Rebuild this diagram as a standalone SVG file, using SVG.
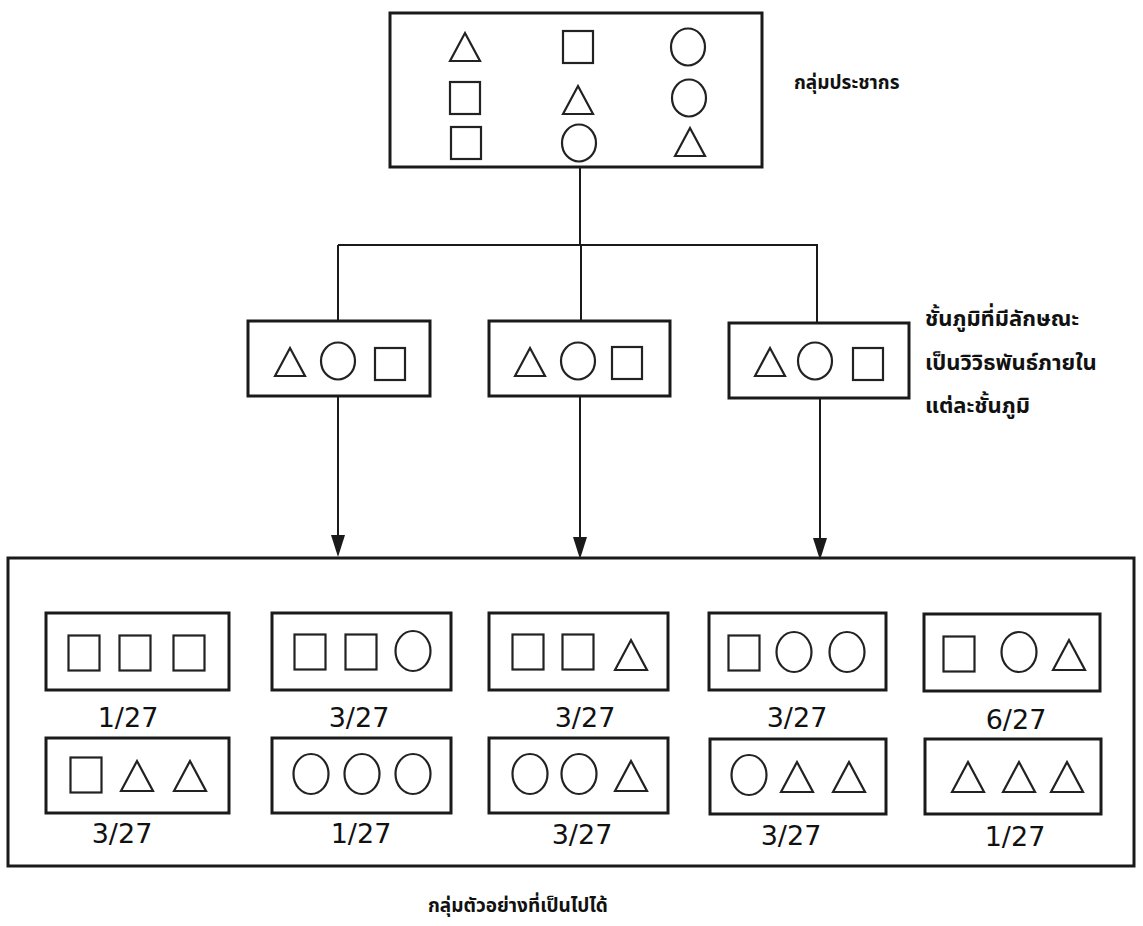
<svg xmlns="http://www.w3.org/2000/svg" xmlns:xlink="http://www.w3.org/1999/xlink" width="1143" height="926" viewBox="0 0 1143 926">
<style>
.box{fill:none;stroke:#1a1a1a;stroke-width:3}
.shp{fill:none;stroke:#222;stroke-width:2.2}
.ln{fill:none;stroke:#1a1a1a;stroke-width:2}
.th{font-family:"Noto Sans Thai","Noto Serif Thai","Loma","Garuda","Norasi","Noto Sans","DejaVu Sans",sans-serif;font-weight:bold;fill:#111}
.num{font-family:"DejaVu Sans",sans-serif;font-size:27px;fill:#111;text-anchor:middle}
</style>
<defs>
<g id="tri"><path class="shp" d="M-15,14 L0,-14 L15,14 Z"/></g>
<g id="sq"><rect class="shp" x="-15" y="-16" width="30" height="32"/></g>
<g id="cir"><ellipse class="shp" rx="17" ry="18.5"/></g>
<g id="tri2"><path class="shp" d="M-16,15 L0,-15 L16,15 Z"/></g>
<g id="sq2"><rect class="shp" x="-15.5" y="-17.5" width="31" height="35"/></g>
<g id="cir2"><ellipse class="shp" rx="17.5" ry="20"/></g>
</defs>

<g id="connectors">
<line class="ln" x1="580" y1="167" x2="580" y2="245"/>
<line class="ln" x1="338" y1="245" x2="818" y2="245"/>
<line class="ln" x1="338" y1="245" x2="338" y2="321"/>
<line class="ln" x1="581" y1="245" x2="581" y2="321"/>
<line class="ln" x1="817" y1="245" x2="817" y2="323"/>
<line class="ln" x1="338" y1="396" x2="338" y2="535"/>
<path d="M331,535 L345,535 L338,557 Z" fill="#1a1a1a"/>
<line class="ln" x1="580" y1="396" x2="580" y2="537"/>
<path d="M573,537 L587,537 L580,559 Z" fill="#1a1a1a"/>
<line class="ln" x1="820" y1="398" x2="820" y2="538"/>
<path d="M813,538 L827,538 L820,560 Z" fill="#1a1a1a"/>
</g>

<g id="population">
<rect class="box" x="390" y="13" width="372" height="154"/>
<use href="#tri" x="465" y="47"/>
<use href="#sq" x="578" y="47"/>
<use href="#cir" x="688" y="47"/>
<use href="#sq" x="465" y="98"/>
<use href="#tri" x="578" y="100"/>
<use href="#cir" x="689" y="98"/>
<use href="#sq" x="466" y="143"/>
<use href="#cir" x="579" y="143"/>
<use href="#tri" x="690" y="142"/>
<text class="th" x="794" y="89" font-size="19">กลุ่มประชากร</text>
</g>

<g id="stratum1">
<rect class="box" x="248" y="321" width="182" height="75"/>
<use href="#tri" x="290" y="362"/>
<use href="#cir" x="338" y="361"/>
<use href="#sq" x="390" y="364"/>
</g>
<g id="stratum2">
<rect class="box" x="489" y="321" width="181" height="75"/>
<use href="#tri" x="530" y="362"/>
<use href="#cir" x="578" y="361"/>
<use href="#sq" x="627" y="363"/>
</g>
<g id="stratum3">
<rect class="box" x="729" y="323" width="180" height="75"/>
<use href="#tri" x="770" y="362"/>
<use href="#cir" x="815" y="361"/>
<use href="#sq" x="868" y="364"/>
</g>
<g id="stratum-label">
<text class="th" x="925" y="326" font-size="22">ชั้นภูมิที่มีลักษณะ</text>
<text class="th" x="925" y="370" font-size="22">เป็นวิวิธพันธ์ภายใน</text>
<text class="th" x="925" y="413" font-size="22">แต่ละชั้นภูมิ</text>
</g>

<g id="samples">
<rect class="box" x="8" y="558" width="1126" height="308"/>

<g id="s1">
<rect class="box" x="46" y="613" width="183" height="77"/>
<use href="#sq2" x="84" y="653"/><use href="#sq2" x="135" y="653"/><use href="#sq2" x="189" y="653"/>
<text class="num" x="128" y="727">1/27</text>
</g>
<g id="s2">
<rect class="box" x="272" y="613" width="179" height="77"/>
<use href="#sq2" x="310" y="652"/><use href="#sq2" x="361" y="652"/><use href="#cir2" x="413" y="651"/>
<text class="num" x="359" y="727">3/27</text>
</g>
<g id="s3">
<rect class="box" x="489" y="613" width="179" height="77"/>
<use href="#sq2" x="528" y="652"/><use href="#sq2" x="578" y="652"/><use href="#tri2" x="631" y="655"/>
<text class="num" x="585" y="727">3/27</text>
</g>
<g id="s4">
<rect class="box" x="709" y="613" width="177" height="77"/>
<use href="#sq2" x="744" y="653"/><use href="#cir2" x="794" y="652"/><use href="#cir2" x="847" y="652"/>
<text class="num" x="797" y="727">3/27</text>
</g>
<g id="s5">
<rect class="box" x="924" y="614" width="176" height="77"/>
<use href="#sq2" x="959" y="654"/><use href="#cir2" x="1019" y="652"/><use href="#tri2" x="1069" y="655"/>
<text class="num" x="1016" y="729">6/27</text>
</g>

<g id="s6">
<rect class="box" x="46" y="738" width="183" height="75"/>
<use href="#sq2" x="86" y="775"/><use href="#tri2" x="137" y="776"/><use href="#tri2" x="190" y="776"/>
<text class="num" x="122" y="843">3/27</text>
</g>
<g id="s7">
<rect class="box" x="272" y="738" width="179" height="75"/>
<use href="#cir2" x="311" y="774"/><use href="#cir2" x="362" y="774"/><use href="#cir2" x="413" y="774"/>
<text class="num" x="361" y="843">1/27</text>
</g>
<g id="s8">
<rect class="box" x="489" y="738" width="179" height="75"/>
<use href="#cir2" x="530" y="774"/><use href="#cir2" x="579" y="774"/><use href="#tri2" x="631" y="776"/>
<text class="num" x="582" y="844">3/27</text>
</g>
<g id="s9">
<rect class="box" x="710" y="739" width="176" height="75"/>
<use href="#cir2" x="749" y="775"/><use href="#tri2" x="797" y="777"/><use href="#tri2" x="849" y="777"/>
<text class="num" x="791" y="845">3/27</text>
</g>
<g id="s10">
<rect class="box" x="925" y="739" width="176" height="75"/>
<use href="#tri2" x="968" y="777"/><use href="#tri2" x="1019" y="777"/><use href="#tri2" x="1067" y="777"/>
<text class="num" x="1015" y="846">1/27</text>
</g>
</g>

<text class="th" x="428" y="912" font-size="19">กลุ่มตัวอย่างที่เป็นไปได้</text>
</svg>
